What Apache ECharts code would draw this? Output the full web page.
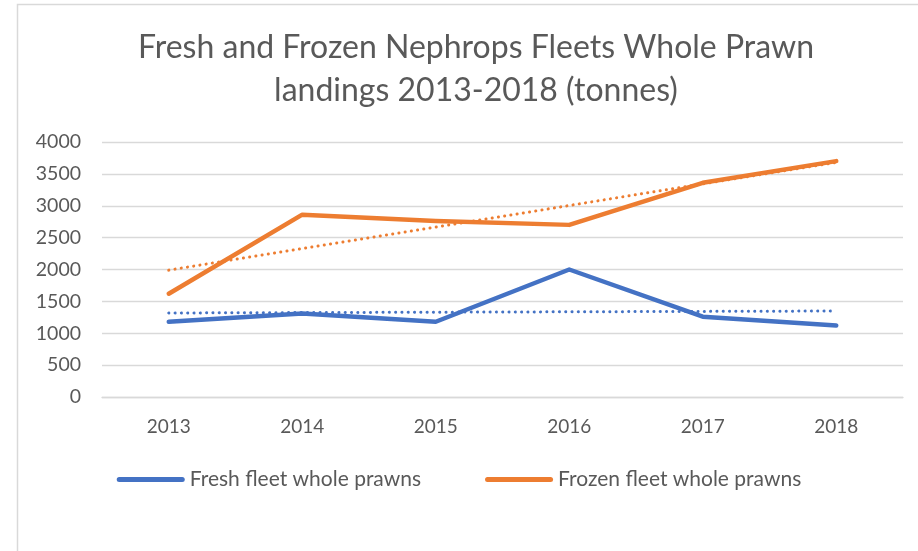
<!DOCTYPE html>
<html>
<head>
<meta charset="utf-8">
<script src="https://cdn.jsdelivr.net/npm/echarts@6/dist/echarts.min.js"></script>
<style>
html,body{margin:0;padding:0;background:#fff;}
#chart{width:918px;height:551px;}
</style>
</head>
<body>
<div id="chart"></div>
<script>
const categories = ['2013', '2014', '2015', '2016', '2017', '2018'];
const freshValues = [1180, 1310, 1180, 2000, 1260, 1120];
const frozenValues = [1620, 2860, 2760, 2700, 3360, 3700];
// linear trend lines (start and end values)
const freshTrend = [1318, null, null, null, null, 1349];
const frozenTrend = [1990, null, null, null, null, 3680];
const yTicks = [0, 500, 1000, 1500, 2000, 2500, 3000, 3500, 4000];
const seriesNames = ['Fresh fleet whole prawns', 'Frozen fleet whole prawns'];
const titleText = 'Fresh and Frozen Nephrops Fleets Whole Prawn\nlandings 2013-2018 (tonnes)';

const FONT = 'Lato';
const GRAY = '#595959';
const BLUE = '#4472C4';
const ORANGE = '#ED7D31';
const capsule = 'path://M2.5,0 L65.5,0 A2.5,2.5 0 0 1 65.5,5 L2.5,5 A2.5,2.5 0 0 1 2.5,0 Z';

const chart = echarts.init(document.getElementById('chart'), null, {renderer: 'canvas'});
chart.setOption({
  backgroundColor: '#ffffff',
  animation: false,
  title: {
    text: titleText,
    left: 471,
    top: 21,
    textAlign: 'center',
    textStyle: {fontFamily: FONT, fontSize: 32, fontWeight: 'normal', color: GRAY, lineHeight: 43}
  },
  graphic: [{
    type: 'rect',
    shape: {x: 17.5, y: 4.5, width: 1200, height: 1200},
    style: {fill: 'none', stroke: '#d9d9d9', lineWidth: 1.5},
    silent: true
  }],
  legend: {
    data: seriesNames.map(n => ({name: n, icon: capsule})),
    top: 464,
    left: 'center',
    itemWidth: 68,
    itemHeight: 5,
    itemGap: 64,
    textStyle: {fontFamily: FONT, fontSize: 21, color: GRAY}
  },
  grid: {left: 102, right: 15, top: 142, bottom: 154, containLabel: false},
  xAxis: {
    type: 'category',
    data: categories,
    boundaryGap: true,
    axisLine: {show: true, lineStyle: {color: '#d9d9d9', width: 1.3}},
    axisTick: {show: false},
    axisLabel: {fontFamily: FONT, fontSize: 19, color: GRAY, margin: 20}
  },
  yAxis: {
    type: 'value',
    min: yTicks[0],
    max: yTicks[yTicks.length - 1],
    interval: yTicks[1] - yTicks[0],
    axisLine: {show: false},
    axisTick: {show: false},
    splitLine: {lineStyle: {color: '#d9d9d9', width: 1.3}},
    axisLabel: {fontFamily: FONT, fontSize: 19.5, color: GRAY, margin: 21, formatter: v => String(v)}
  },
  series: [
    {
      name: seriesNames[0], type: 'line', data: freshValues,
      symbol: 'none', lineStyle: {color: BLUE, width: 4.5, cap: 'round', join: 'round'},
      itemStyle: {color: BLUE}, z: 2
    },
    {
      name: seriesNames[1], type: 'line', data: frozenValues,
      symbol: 'none', lineStyle: {color: ORANGE, width: 4.5, cap: 'round', join: 'round'},
      itemStyle: {color: ORANGE}, z: 2
    },
    {
      name: 'Fresh trend', type: 'line', data: freshTrend, connectNulls: true,
      symbol: 'none', lineStyle: {color: BLUE, width: 3, type: [0.1, 6.2], cap: 'round'},
      z: 3, silent: true
    },
    {
      name: 'Frozen trend', type: 'line', data: frozenTrend, connectNulls: true,
      symbol: 'none', lineStyle: {color: ORANGE, width: 3, type: [0.1, 6.2], cap: 'round'},
      z: 3, silent: true
    }
  ]
});
</script>
</body>
</html>
